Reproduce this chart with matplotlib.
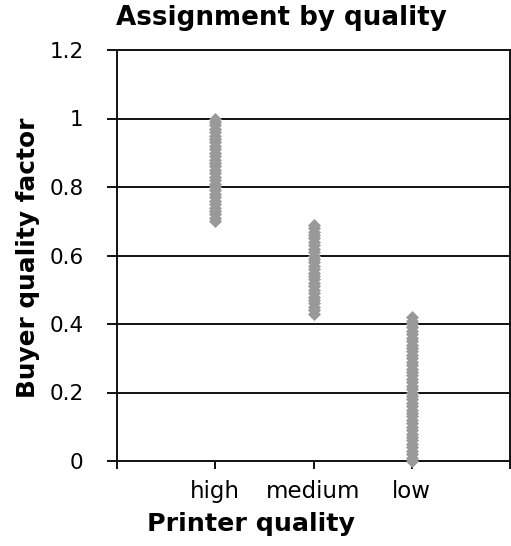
import matplotlib
matplotlib.use("Agg")
import matplotlib.pyplot as plt

categories = ["high", "medium", "low"]
cat_positions = [1, 2, 3]

high_values = [0.70, 0.71, 0.72, 0.73, 0.74, 0.75, 0.76, 0.77, 0.78, 0.79,
               0.80, 0.81, 0.82, 0.83, 0.84, 0.85, 0.86, 0.87, 0.88, 0.89,
               0.90, 0.91, 0.92, 0.93, 0.94, 0.95, 0.96, 0.97, 0.98, 0.99, 1.00]
medium_values = [0.43, 0.44, 0.45, 0.46, 0.47, 0.48, 0.49, 0.50, 0.51, 0.52,
                 0.53, 0.54, 0.55, 0.56, 0.57, 0.58, 0.59, 0.60, 0.61, 0.62,
                 0.63, 0.64, 0.65, 0.66, 0.67, 0.68, 0.69]
low_values = [0.00, 0.01, 0.02, 0.03, 0.04, 0.05, 0.06, 0.07, 0.08, 0.09,
              0.10, 0.11, 0.12, 0.13, 0.14, 0.15, 0.16, 0.17, 0.18, 0.19,
              0.20, 0.21, 0.22, 0.23, 0.24, 0.25, 0.26, 0.27, 0.28, 0.29,
              0.30, 0.31, 0.32, 0.33, 0.34, 0.35, 0.36, 0.37, 0.38, 0.39,
              0.40, 0.41, 0.42]

y_ticks = [0, 0.2, 0.4, 0.6, 0.8, 1.0, 1.2]
y_tick_labels = ["0", "0.2", "0.4", "0.6", "0.8", "1", "1.2"]

plt.rcParams['font.family'] = ['DejaVu Sans']

fig = plt.figure(figsize=(5.11, 5.46), dpi=100)
ax = fig.add_axes([117 / 511, (546 - 461) / 546, (510 - 117) / 511, (461 - 50) / 546])

marker_color = "#999999"
for pos, vals in zip(cat_positions, [high_values, medium_values, low_values]):
    ax.plot([pos] * len(vals), vals, linestyle="none", marker="D",
            markersize=6.3, markerfacecolor=marker_color,
            markeredgecolor=marker_color, markeredgewidth=0.5, zorder=3,
            clip_on=False)

ax.set_xlim(0, 4)
ax.set_ylim(0, 1.2)
ax.set_xticks([0] + cat_positions + [4])
ax.set_xticklabels([""] + categories + [""], fontsize=16.5)
ax.set_yticks(y_ticks)
ax.set_yticklabels(y_tick_labels, fontsize=15.5)

for y in y_ticks[1:-1]:
    ax.axhline(y, color="#111111", linewidth=1.4, zorder=1)

for s in ax.spines.values():
    s.set_color("#111111")
    s.set_linewidth(1.4)

ax.tick_params(axis="y", direction="out", length=7, width=1.4, pad=17, color="#111111")
ax.tick_params(axis="x", direction="out", length=6, width=1.4, pad=8, color="#111111")

fig.text(281 / 511, 1 - 18 / 546, "Assignment by quality", ha="center", va="center",
         fontsize=18.8, fontweight="bold")
fig.text(251 / 511, 1 - 524 / 546, "Printer quality", ha="center", va="center",
         fontsize=18.3, fontweight="bold")
fig.text(28 / 511, 1 - 258 / 546, "Buyer quality factor", ha="center", va="center",
         rotation=90, fontsize=17.8, fontweight="bold")

fig.savefig("out.png", dpi=100)
